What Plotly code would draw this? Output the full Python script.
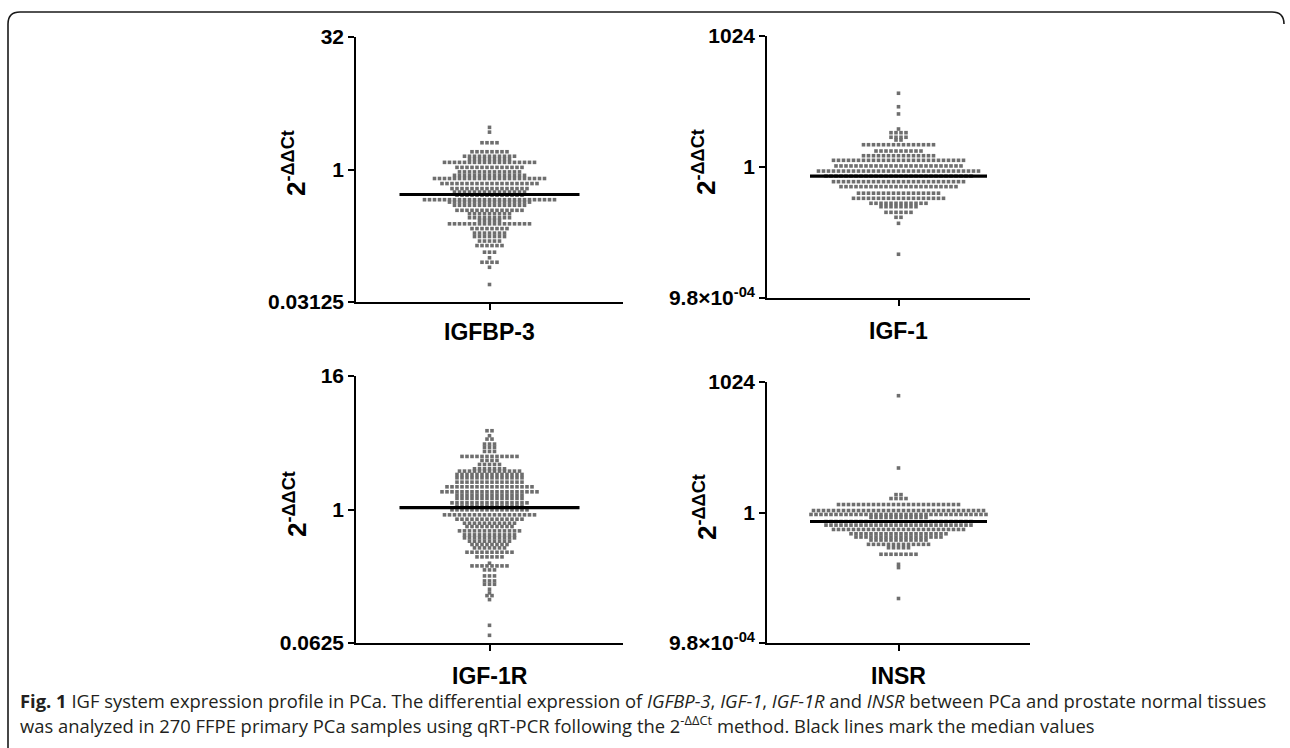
import numpy as np
import plotly.graph_objects as go

W, H = 1290, 748
L2 = np.log10(2.0)

# ---------------- data ----------------
genes = ["IGFBP-3", "IGF-1", "IGF-1R", "INSR"]

# each dot row: log2 fold change (2^-ddCt) level and number of samples in that row
igfbp3_log2 = [1.59, 1.41, 1.01, 0.67, 0.50, 0.38, 0.27, 0.08, -0.09, -0.22,
               -0.34, -0.53, -0.72, -0.85, -0.97, -1.14, -1.23, -1.35, -1.54, -1.67,
               -1.82, -1.92, -2.05, -2.23, -2.40, -2.53, -2.70, -2.87, -3.12, -3.33,
               -3.50, -3.69, -4.34]
igfbp3_counts = [1, 1, 4, 8, 11, 9, 19, 14, 13, 15,
                 23, 20, 16, 15, 14, 27, 17, 15, 14, 9,
                 9, 5, 17, 8, 7, 7, 5, 6, 3, 1,
                 4, 1, 1]

igf1_log2 = [5.63, 4.60, 4.05, 2.90, 2.62, 2.27, 2.06, 1.70, 1.22, 0.86,
             0.51, 0.08, -0.31, -0.69, -1.12, -1.50, -2.00, -2.39, -2.77, -3.03,
             -3.46, -3.84, -4.30, -6.66]
igf1_counts = [1, 1, 1, 1, 4, 4, 2, 15, 10, 15,
               27, 26, 33, 30, 27, 24, 17, 19, 12, 8,
               6, 2, 1, 1]

igf1r_log2 = [2.36, 2.21, 2.11, 1.96, 1.86, 1.74, 1.59, 1.47, 1.35, 1.22,
              1.15, 1.05, 0.95, 0.82, 0.68, 0.53, 0.43, 0.33, 0.20, 0.10,
              -0.01, -0.16, -0.29, -0.41, -0.51, -0.64, -0.76, -0.85, -0.95, -1.05,
              -1.15, -1.28, -1.42, -1.61, -1.69, -1.81, -1.99, -2.14, -2.24, -2.39,
              -2.50, -2.58, -2.70, -3.47, -3.77]
igf1r_counts = [2, 1, 2, 3, 3, 3, 12, 4, 5, 7,
                13, 14, 14, 14, 18, 20, 14, 14, 16, 14,
                16, 19, 14, 11, 10, 13, 11, 11, 9, 8,
                7, 10, 6, 1, 8, 3, 3, 3, 3, 1,
                1, 2, 1, 1, 1]

insr_log2 = [8.95, 3.41, 1.37, 1.07, 0.61, 0.15, -0.15, -0.36, -0.69, -0.97,
             -1.30, -1.63, -1.88, -2.11, -2.44, -2.70, -3.20, -3.97, -4.22, -6.59]
insr_counts = [1, 1, 2, 4, 25, 35, 36, 12, 30, 30,
               27, 20, 18, 12, 13, 5, 8, 1, 1, 1]

medians = [0.52, 0.62, 1.04, 0.62]

# axis limits in log2 units and tick labels
axis_lo = [-5, -10, -4, -10]
axis_hi = [5, 10, 4, 10]
tick_labels = [["0.03125", "1", "32"],
               ["9.8×10<sup>-04</sup>", "1", "1024"],
               ["0.0625", "1", "16"],
               ["9.8×10<sup>-04</sup>", "1", "1024"]]

levels_all = [igfbp3_log2, igf1_log2, igf1r_log2, insr_log2]
counts_all = [igfbp3_counts, igf1_counts, igf1r_counts, insr_counts]

# ---------------- layout geometry (pixels) ----------------
boxes = [  # x0, x1, ytop, ybottom
    (356, 623, 37, 302),
    (767, 1030, 36, 298),
    (356, 623, 376, 643),
    (767, 1030, 382, 643),
]
ytitle_pos = [(294, 163), (705, 162), (295, 504), (705, 507)]
xlabel_y = [332, 331, 676, 676]
median_half = [90, 88.5, 90, 88.5]
PITCH = 5.0

fig = go.Figure()
SANS = "Liberation Sans, Arial, sans-serif"
TICKFONT = dict(family=SANS, size=21, color="black", weight="bold")

for i in range(4):
    k = "" if i == 0 else str(i + 1)
    x0, x1, yt, yb = boxes[i]
    half_w = (x1 - x0) / 2.0
    xs, ys = [], []
    for lev, cnt in zip(levels_all[i], counts_all[i]):
        offs = (np.arange(cnt) - (cnt - 1) / 2.0) * PITCH
        xs.extend(offs.tolist())
        ys.extend([2.0 ** lev] * cnt)
    fig.add_trace(go.Scatter(
        x=xs, y=ys, mode="markers",
        marker=dict(symbol="square", size=3.6, color="#6e6e6e", line=dict(width=0)),
        xaxis="x" + k, yaxis="y" + k, showlegend=False, hoverinfo="skip"))
    fig.add_trace(go.Scatter(
        x=[-median_half[i], median_half[i]], y=[medians[i], medians[i]], mode="lines",
        line=dict(color="black", width=3.2),
        xaxis="x" + k, yaxis="y" + k, showlegend=False, hoverinfo="skip"))

    lo, hi = axis_lo[i], axis_hi[i]
    fig.layout["xaxis" + k] = dict(
        domain=[x0 / W, x1 / W], range=[-half_w, half_w], anchor="y" + k,
        automargin=False,
        showgrid=False, zeroline=False, showline=True, linecolor="black", linewidth=1.6,
        ticks="outside", ticklen=6, tickwidth=1.5, tickcolor="black",
        tickmode="array", tickvals=[0], showticklabels=False, fixedrange=True)
    fig.layout["yaxis" + k] = dict(
        domain=[1 - yb / H, 1 - yt / H], type="log", range=[lo * L2, hi * L2],
        anchor="x" + k, automargin=False, showgrid=False, zeroline=False, showline=True,
        linecolor="black", linewidth=1.6, ticks="outside", ticklen=6, tickwidth=1.5,
        tickcolor="black", tickmode="array",
        tickvals=[2.0 ** lo, 1, 2.0 ** hi], ticktext=tick_labels[i],
        tickfont=TICKFONT, fixedrange=True)

    tx, ty = ytitle_pos[i]
    fig.add_annotation(
        x=tx / W, y=1 - ty / H, xref="paper", yref="paper", showarrow=False,
        text="<b>2<sup>-ΔΔCt</sup></b>", textangle=-90,
        font=dict(family=SANS, size=26, color="black"),
        xanchor="center", yanchor="middle")
    fig.add_annotation(
        x=((x0 + x1) / 2) / W, y=1 - xlabel_y[i] / H, xref="paper", yref="paper",
        showarrow=False, text="<b>" + genes[i] + "</b>",
        font=dict(family=SANS, size=23, color="black"),
        xanchor="center", yanchor="middle")

# caption
CAPFONT = dict(family="Open Sans, Noto Sans, sans-serif", size=18.4, color="#231f20")
line1 = ("<b>Fig. 1</b> IGF system expression profile in PCa. The differential expression of "
         "<i>IGFBP-3</i>, <i>IGF-1</i>, <i>IGF-1R</i> and <i>INSR</i> between PCa and prostate normal tissues")
line2 = ("was analyzed in 270 FFPE primary PCa samples using qRT-PCR following the "
         "2<sup>-ΔΔCt</sup> method. Black lines mark the median values")
fig.add_annotation(x=18 / W, y=1 - 700 / H, xref="paper", yref="paper", showarrow=False,
                   text=line1, font=CAPFONT, xanchor="left", yanchor="middle", align="left")
fig.add_annotation(x=18 / W, y=1 - 724 / H, xref="paper", yref="paper", showarrow=False,
                   text=line2, font=CAPFONT, xanchor="left", yanchor="middle", align="left")

# frame (rounded top corners, left side)
def px(x):
    return x / W

def py(y):
    return 1 - y / H

r = 12
fx0, fx1, fy0, fyb = 8, 1284, 12, 748
path = (f"M {px(fx0)},{py(fyb)} L {px(fx0)},{py(fy0 + r)} "
        f"Q {px(fx0)},{py(fy0)} {px(fx0 + r)},{py(fy0)} "
        f"L {px(fx1 - r)},{py(fy0)} Q {px(fx1)},{py(fy0)} {px(fx1)},{py(fy0 + r)}")
fig.add_shape(type="path", path=path, xref="paper", yref="paper",
              line=dict(color="#1a1a1a", width=1.6))

fig.update_layout(
    template="none",
    width=W, height=H, autosize=False,
    margin=dict(l=0, r=0, t=0, b=0, pad=0),
    paper_bgcolor="white", plot_bgcolor="white",
    showlegend=False,
)

fig.write_html("out.html", config={"displayModeBar": False},
               post_script="document.body.style.margin='0';document.body.style.overflow='hidden';")
